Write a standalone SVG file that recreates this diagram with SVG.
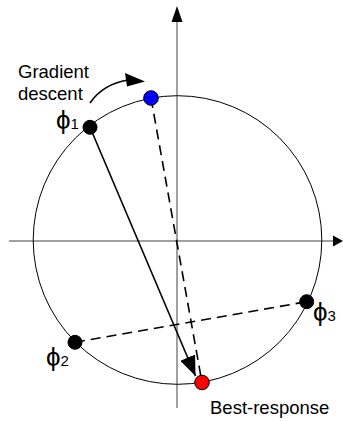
<svg xmlns="http://www.w3.org/2000/svg" width="343" height="421" viewBox="0 0 343 421">
<style>
.axis{stroke:#808080;stroke-width:1.5;fill:none}
.circ{stroke:#000;stroke-width:1;fill:none}
.dash{stroke:#000;stroke-width:1.6;stroke-dasharray:10,6;fill:none}
.solid{stroke:#000;stroke-width:1.6;fill:none}
.dot{stroke:#000;stroke-width:1}
.lbl{font-family:"Liberation Sans",Arial,sans-serif;font-size:18.5px;fill:#000}
.phi{font-family:"Liberation Sans","DejaVu Sans",sans-serif;font-size:26px;fill:#000}
.sub{font-family:"Liberation Sans",Arial,sans-serif;font-size:15px}
</style>
<defs>
<marker id="ahBig" viewBox="0 0 20 16" refX="20" refY="8" markerWidth="20" markerHeight="16" orient="auto" markerUnits="userSpaceOnUse">
<path d="M0,0 L20,8 L0,16 Z" fill="#000"/>
</marker>
</defs>
<g id="axes">
<line class="axis" x1="9" y1="241" x2="334" y2="241"/>
<path d="M333,235.5 L343,241 L333,246.5 Z" fill="#000"/>
<line class="axis" x1="177" y1="408" x2="177" y2="20"/>
<path d="M171.5,22 L177,6 L182.5,22 Z" fill="#000"/>
</g>
<g id="circle">
<circle class="circ" cx="177.5" cy="240" r="144.3"/>
</g>
<g id="connectors">
<line class="dash" x1="151" y1="98" x2="202" y2="382.5"/>
<line class="dash" x1="75" y1="342.3" x2="306.7" y2="301.7"/>
<line class="solid" x1="90" y1="127.3" x2="195.5" y2="376" marker-end="url(#ahBig)"/>
<path class="solid" d="M90,103 Q103,84 128,80" stroke-width="2"/>
<path d="M125,73 L145,81.5 L127,86.5 Z" fill="#000"/>
</g>
<g id="phi1">
<circle class="dot" cx="90" cy="127.3" r="7" fill="#000"/>
<text class="phi" x="56" y="129">ϕ<tspan class="sub">1</tspan></text>
</g>
<g id="phi2">
<circle class="dot" cx="75" cy="342.3" r="7" fill="#000"/>
<text class="phi" x="46" y="366">ϕ<tspan class="sub">2</tspan></text>
</g>
<g id="phi3">
<circle class="dot" cx="306.7" cy="301.7" r="7" fill="#000"/>
<text class="phi" x="313" y="321">ϕ<tspan class="sub">3</tspan></text>
</g>
<g id="blue">
<circle class="dot" cx="151" cy="98" r="7.3" fill="#0000ff"/>
</g>
<g id="red">
<circle class="dot" cx="202" cy="382.5" r="7.3" fill="#ff0000"/>
</g>
<g id="labels">
<text class="lbl" x="18" y="77.5">Gradient</text>
<text class="lbl" x="18" y="100">descent</text>
<text class="lbl" x="210" y="413.5">Best-response</text>
</g>
</svg>
